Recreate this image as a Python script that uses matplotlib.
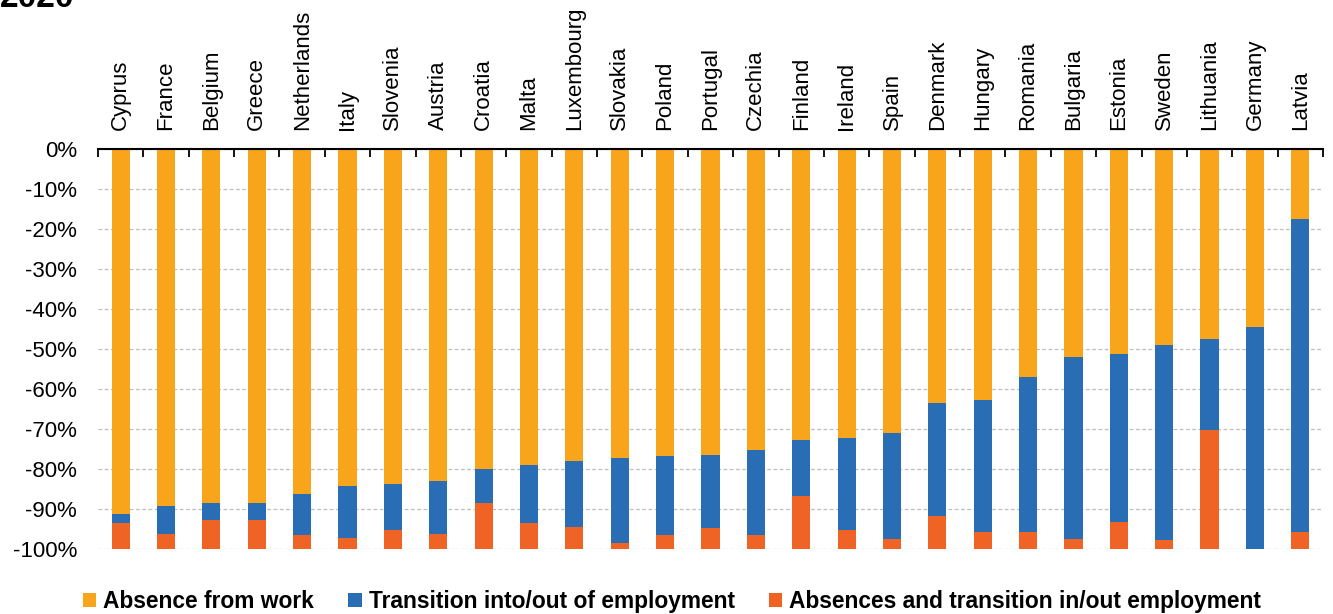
import matplotlib.pyplot as plt
import numpy as np

plt.rcParams['font.family'] = ['Liberation Sans', 'DejaVu Sans']

countries = ['Cyprus', 'France', 'Belgium', 'Greece', 'Netherlands', 'Italy', 'Slovenia',
             'Austria', 'Croatia', 'Malta', 'Luxembourg', 'Slovakia', 'Poland', 'Portugal',
             'Czechia', 'Finland', 'Ireland', 'Spain', 'Denmark', 'Hungary', 'Romania',
             'Bulgaria', 'Estonia', 'Sweden', 'Lithuania', 'Germany', 'Latvia']

# shares of the fall in hours worked, % (stacked downwards from 0)
absence = [91.2, 89.3, 88.6, 88.6, 86.3, 84.2, 83.8, 83.1, 80.0, 79.1, 77.9, 77.2, 76.8,
           76.6, 75.2, 72.7, 72.2, 71.1, 63.4, 62.7, 57.0, 52.1, 51.3, 49.1, 47.5, 44.5, 17.5]
transition = [2.4, 7.0, 4.1, 4.1, 10.2, 13.0, 11.4, 13.2, 8.4, 14.5, 16.5, 21.4, 19.7,
              18.1, 21.3, 14.0, 23.0, 26.4, 28.3, 33.1, 38.8, 45.4, 42.0, 48.6, 22.7, 55.5, 78.3]
both = [6.4, 3.7, 7.3, 7.3, 3.5, 2.8, 4.8, 3.7, 11.6, 6.4, 5.6, 1.4, 3.5,
        5.3, 3.5, 13.3, 4.8, 2.5, 8.3, 4.2, 4.2, 2.5, 6.7, 2.3, 29.8, 0.0, 4.2]

c_abs = '#F9A51B'
c_tr = '#296EB4'
c_both = '#EF6325'

x = np.arange(len(countries))
a = -np.array(absence)
t = -np.array(transition)
b = -np.array(both)

fig = plt.figure(figsize=(13.33, 6.14), dpi=100)
ax = fig.add_axes([0.0735, 0.1059, 0.919, 0.6514])

w = 0.4
ax.bar(x, a, w, color=c_abs, label='Absence from work', zorder=3)
ax.bar(x, t, w, bottom=a, color=c_tr, label='Transition into/out of employment', zorder=3)
ax.bar(x, b, w, bottom=a + t, color=c_both, label='Absences and transition in/out employment', zorder=3)

ax.set_xlim(-0.5, len(countries) - 0.5)
ax.set_ylim(-100, 0)
ax.set_yticks(np.arange(-100, 1, 10))
ax.set_yticklabels(['%d%%' % v for v in np.arange(-100, 1, 10)], fontsize=16)
ax.tick_params(axis='y', length=0, pad=15)

ax.xaxis.tick_top()
ax.set_xticks(x)
ax.set_xticklabels(countries, rotation=90, fontsize=16)
ax.set_xticks(np.arange(-0.5, len(countries), 1), minor=True)
ax.tick_params(axis='x', which='major', length=0, pad=14)
ax.tick_params(axis='x', which='minor', direction='in', length=6, width=1.3, color='black')

for s in ['left', 'right', 'bottom']:
    ax.spines[s].set_visible(False)
ax.spines['top'].set_linewidth(1.5)
ax.spines['top'].set_zorder(4)

ax.grid(axis='y', linestyle=(0, (3, 2)), color='#BFBFBF', linewidth=0.9, zorder=0)
ax.set_axisbelow(True)

fig.text(0.0, 1 - 7 / 614, '2020', fontsize=24, fontweight='bold', va='baseline', ha='left')

fig.legend(loc='center', bbox_to_anchor=(0.504, 0.02), ncol=3, frameon=False,
           prop={'size': 16.4, 'weight': 'bold'}, handlelength=0.6, handleheight=0.6,
           handletextpad=0.3, columnspacing=1.5, borderaxespad=0)

fig.savefig('out.png', dpi=100)
